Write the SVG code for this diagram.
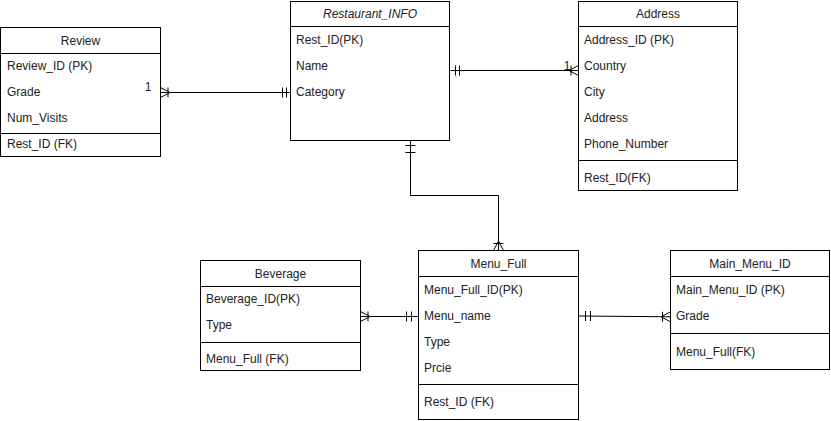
<svg xmlns="http://www.w3.org/2000/svg" width="831" height="421" viewBox="0 0 831 421">
<style>
.box{fill:#fff;stroke:#000;stroke-width:1}
.ln{stroke:#000;stroke-width:1;fill:none}
text{font-family:"Liberation Sans",Arial,sans-serif;font-size:12px;fill:#222}
.t{text-anchor:middle}
.i{font-style:italic}
</style>
<rect width="831" height="421" fill="#fff"/>
<g id="connectors" class="ln">
  <!-- Review - Restaurant_INFO -->
  <path d="M160.5 92.5H290.5"/>
  <path d="M170 92.5L160.5 87.5M170 92.5L160.5 97.5M168 87.5V97.5"/>
  <path d="M282.5 87.5V97.5M286.5 87.5V97.5"/>
  <!-- Restaurant_INFO - Address -->
  <path d="M450.5 70.5H578.5"/>
  <path d="M455.5 65.5V75.5M459.5 65.5V75.5"/>
  <path d="M569 70.5L578.5 65.5M569 70.5L578.5 75.5M571 65.5V75.5"/>
  <!-- Restaurant_INFO - Menu_Full -->
  <path d="M410.5 140.5V195.5H498.5V250.5"/>
  <path d="M405.5 145.5H415.5M405.5 152.5H415.5"/>
  <path d="M498.5 241L493.5 250.5M498.5 241L503.5 250.5M493.5 243.5H503.5"/>
  <!-- Beverage - Menu_Full -->
  <path d="M360.5 316.5H418.5"/>
  <path d="M370 316.5L360.5 311.5M370 316.5L360.5 321.5M368 311.5V321.5"/>
  <path d="M406.5 311.5V321.5M411.5 311.5V321.5"/>
  <!-- Menu_Full - Main_Menu_ID -->
  <path d="M578.5 316L670.5 316.8"/>
  <path d="M585.5 311V321M590.5 311V321"/>
  <path d="M661 316.8L670.5 311.8M661 316.8L670.5 321.8M662.5 311.8V321.8"/>
</g>
<g id="review">
  <rect class="box" x="0.5" y="27.5" width="160" height="129"/>
  <path class="ln" d="M0.5 53.5H160.5M0.5 133.5H160.5"/>
  <text class="t" x="80.5" y="44.5">Review</text>
  <text x="7" y="70">Review_ID (PK)</text>
  <text x="7" y="96">Grade</text>
  <text x="7" y="122">Num_Visits</text>
  <text x="7" y="148">Rest_ID (FK)</text>
</g>
<g id="restaurant_info">
  <rect class="box" x="290.5" y="1.5" width="159" height="139"/>
  <path class="ln" d="M290.5 26.5H449.5"/>
  <text class="t i" x="370" y="18">Restaurant_INFO</text>
  <text x="296" y="44">Rest_ID(PK)</text>
  <text x="296" y="70">Name</text>
  <text x="296" y="96">Category</text>
</g>
<g id="address">
  <rect class="box" x="578.5" y="1.5" width="159" height="189"/>
  <path class="ln" d="M578.5 26.5H737.5M578.5 160.5H737.5"/>
  <text class="t" x="658" y="18">Address</text>
  <text x="584" y="44">Address_ID (PK)</text>
  <text x="584" y="70">Country</text>
  <text x="584" y="96">City</text>
  <text x="584" y="122">Address</text>
  <text x="584" y="148">Phone_Number</text>
  <text x="584" y="182">Rest_ID(FK)</text>
</g>
<g id="beverage">
  <rect class="box" x="200.5" y="260.5" width="160" height="110"/>
  <path class="ln" d="M200.5 286.5H360.5M200.5 342.5H360.5"/>
  <text class="t" x="280.5" y="277.5">Beverage</text>
  <text x="206" y="303">Beverage_ID(PK)</text>
  <text x="206" y="329">Type</text>
  <text x="206" y="363">Menu_Full (FK)</text>
</g>
<g id="menu_full">
  <rect class="box" x="418.5" y="250.5" width="160" height="169"/>
  <path class="ln" d="M418.5 276.5H578.5M418.5 384.5H578.5"/>
  <text class="t" x="498.5" y="267.5">Menu_Full</text>
  <text x="424" y="294">Menu_Full_ID(PK)</text>
  <text x="424" y="320">Menu_name</text>
  <text x="424" y="346">Type</text>
  <text x="424" y="372">Prcie</text>
  <text x="424" y="406">Rest_ID (FK)</text>
</g>
<g id="main_menu_id">
  <rect class="box" x="670.5" y="250.5" width="159" height="119"/>
  <path class="ln" d="M670.5 276.5H829.5M670.5 333.5H829.5"/>
  <text class="t" x="750" y="267.5">Main_Menu_ID</text>
  <text x="676" y="294">Main_Menu_ID (PK)</text>
  <text x="676" y="320">Grade</text>
  <text x="676" y="356">Menu_Full(FK)</text>
</g>
<g id="labels">
  <text x="148" y="91" class="t">1</text>
  <text x="567" y="70" class="t">1</text>
</g>
</svg>
